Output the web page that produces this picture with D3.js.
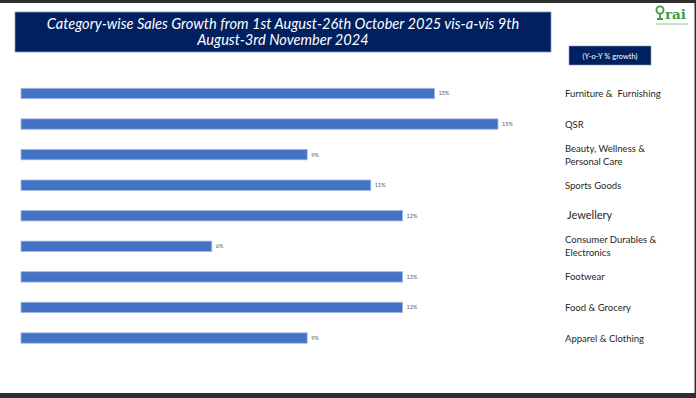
<!DOCTYPE html>
<html>
<head>
<meta charset="utf-8">
<script src="https://cdn.jsdelivr.net/npm/d3@7"></script>
<style>
  body { margin: 0; background: #fff; }
  svg { display: block; font-family: Lato, "Open Sans", sans-serif; }
</style>
</head>
<body>
<div id="chart"></div>
<script>
// Category-wise YoY sales growth, horizontal bars with labels on the right.

const categories = [
  "Furniture & Furnishing",
  "QSR",
  "Beauty, Wellness & Personal Care",
  "Sports Goods",
  "Jewellery",
  "Consumer Durables & Electronics",
  "Footwear",
  "Food & Grocery",
  "Apparel & Clothing",
];
const growth = [13, 15, 9, 11, 12, 6, 12, 12, 9];
const labelLines = [
  ["Furniture &  Furnishing"],
  ["QSR"],
  ["Beauty, Wellness &", "Personal Care"],
  ["Sports Goods"],
  ["Jewellery"],
  ["Consumer Durables &", "Electronics"],
  ["Footwear"],
  ["Food & Grocery"],
  ["Apparel & Clothing"],
];
const titleLines = [
  "Category-wise Sales Growth from 1st August-26th October 2025 vis-a-vis 9th",
  "August-3rd November 2024",
];
const unitLabel = "(Y-o-Y % growth)";

const W = 696, H = 398;
const COLORS = {
  frame: "#2e2e2e",
  navy: "#002060",
  bar: "#4472c4",
  barEdge: "#a3b9e3",
  value: "#595959",
  label: "#262626",
  green: "#3f9a45",
};

const svg = d3.select("#chart").append("svg")
  .attr("width", W)
  .attr("height", H)
  .attr("viewBox", [0, 0, W, H]);

// slide frame
svg.append("rect").attr("width", W).attr("height", H).attr("fill", COLORS.frame);
svg.append("rect").attr("x", 0).attr("y", 3).attr("width", 694).attr("height", 390).attr("fill", "#fff");
svg.append("line").attr("x1", 694.5).attr("x2", 694.5).attr("y1", 3).attr("y2", 393)
  .attr("stroke", "#9a9a9a").attr("stroke-width", 1);

// title box
svg.append("rect")
  .attr("x", 15).attr("y", 12).attr("width", 536).attr("height", 40)
  .attr("fill", COLORS.navy)
  .attr("stroke", "#8d9bb8").attr("stroke-width", 0.8);

svg.append("g")
  .selectAll("text")
  .data(titleLines)
  .join("text")
  .attr("x", 283)
  .attr("y", (d, i) => 28.5 + i * 16.5)
  .attr("text-anchor", "middle")
  .attr("fill", "#fff")
  .style("font-style", "italic")
  .style("font-size", "14.6px")
  .text((d) => d);

// unit box
svg.append("rect")
  .attr("x", 569).attr("y", 46).attr("width", 82).attr("height", 19)
  .attr("fill", COLORS.navy)
  .attr("stroke", "#8d9bb8").attr("stroke-width", 0.6);
svg.append("text")
  .attr("x", 610).attr("y", 58.5)
  .attr("text-anchor", "middle")
  .attr("fill", "#fff")
  .style("font-size", "7.5px")
  .text(unitLabel);

// logo
const logo = svg.append("g").attr("transform", "translate(655,5)");
logo.append("circle").attr("cx", 5).attr("cy", 5).attr("r", 3.6)
  .attr("fill", "none").attr("stroke", COLORS.green).attr("stroke-width", 1.8);
logo.append("path").attr("d", "M5,8.5 L5,14 M2,14 L8,14")
  .attr("stroke", COLORS.green).attr("stroke-width", 1.8).attr("fill", "none");
logo.append("text").attr("x", 10).attr("y", 14)
  .attr("fill", COLORS.green)
  .style("font-family", "'DejaVu Serif', serif")
  .style("font-weight", "bold")
  .style("font-size", "13.5px")
  .text("rai");
logo.append("line").attr("x1", 1).attr("x2", 33).attr("y1", 19).attr("y2", 19)
  .attr("stroke", "#9fcfa2").attr("stroke-width", 1.2);

// scales
const x = d3.scaleLinear().domain([0, 15]).range([21, 498]);
const y = d3.scaleBand()
  .domain(categories)
  .range([78.2, 353.3])
  .paddingInner(0.66)
  .paddingOuter(0.33);

const rows = categories.map((c, i) => ({ cat: c, value: growth[i], lines: labelLines[i] }));

svg.append("g")
  .selectAll("rect")
  .data(rows)
  .join("rect")
  .attr("x", x(0))
  .attr("y", (d) => y(d.cat))
  .attr("width", (d) => x(d.value) - x(0))
  .attr("height", y.bandwidth())
  .attr("fill", COLORS.bar)
  .attr("stroke", COLORS.barEdge)
  .attr("stroke-width", 0.8);

svg.append("g")
  .selectAll("text")
  .data(rows)
  .join("text")
  .attr("x", (d) => x(d.value) + 4)
  .attr("y", (d) => y(d.cat) + y.bandwidth() / 2 + 2)
  .attr("fill", COLORS.value)
  .style("font-size", "5.5px")
  .text((d) => `${d.value}%`);

// category labels to the right
const labelX = (d) => (d.cat === "Jewellery" ? 567 : 565);
svg.append("g")
  .selectAll("text")
  .data(rows.flatMap((r) =>
    r.lines.map((t, i) => ({ cat: r.cat, t, i, n: r.lines.length }))))
  .join("text")
  .attr("x", labelX)
  .attr("y", (d) => {
    const mid = y(d.cat) + y.bandwidth() / 2;
    if (d.n === 1) return mid + 3.5;
    return mid - 3 + d.i * 13;
  })
  .attr("fill", COLORS.label)
  .style("font-size", (d) => (d.cat === "Jewellery" ? "11px" : "9.5px"))
  .style("white-space", "pre")
  .text((d) => d.t);
</script>
</body>
</html>
